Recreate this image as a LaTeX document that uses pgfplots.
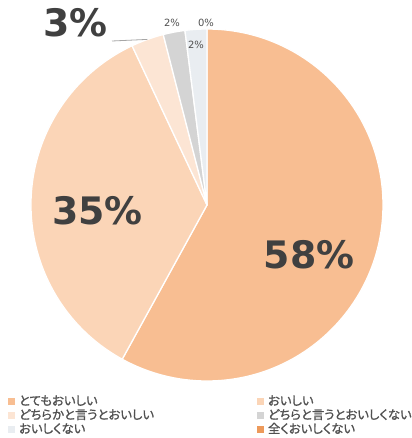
\documentclass[border=0pt]{standalone}
\usepackage{pgfplots}
\pgfplotsset{compat=1.18}
\usepackage{pgfplotstable}
\usepackage{fontspec}
\newfontfamily\jp[RawFeature=+palt, FakeBold=1.2]{Noto Sans CJK JP}
\newfontfamily\numfont{DejaVu Sans}
\definecolor{c1}{HTML}{F8BE92}
\definecolor{c2}{HTML}{FBD5B7}
\definecolor{c3}{HTML}{FCE5D4}
\definecolor{c4}{HTML}{D4D4D4}
\definecolor{c5}{HTML}{E9EDF1}
\definecolor{c6}{HTML}{ED9A5B}
\definecolor{lbl}{HTML}{404040}
\definecolor{txt}{HTML}{505050}

\pgfplotstableread{
value color
58 c1
35 c2
3 c3
2 c4
2 c5
0 c6
}\piedata

\begin{document}
\begin{tikzpicture}
\begin{axis}[
  hide axis, clip=false,
  x=1bp, y=1bp,
  xmin=0, xmax=412, ymin=0, ymax=438,
  at={(0,0)}, anchor=south west,
  legend columns=2,
  legend cell align=left,
  legend image code/.code={\fill[#1] (0bp,-3bp) rectangle (6bp,3bp);},
  legend style={at={(8/412,44/438)}, anchor=north west, draw=none, fill=none,
    inner sep=0pt, row sep=0pt, column sep=4.5bp,
    /tikz/column 2/.style={column sep=103bp},
    nodes={inner sep=0pt, text height=11bp, text depth=3bp, text=txt,
      font=\jp\fontsize{12.4}{14}\selectfont}},
]
\def\curang{90}
\pgfplotstablegetrowsof{\piedata}
\pgfmathtruncatemacro\nrows{\pgfplotsretval-1}
\pgfplotsforeachungrouped \i in {0,...,\nrows}{%
  \pgfplotstablegetelem{\i}{value}\of\piedata \let\v\pgfplotsretval
  \pgfplotstablegetelem{\i}{color}\of\piedata \let\c\pgfplotsretval
  \pgfmathsetmacro\nextang{\curang-3.6*\v}%
  \ifdim\v pt>0pt
  \edef\temp{\noexpand\filldraw[fill=\c, draw=white, line width=1.3bp, line join=round]
    (axis cs:207,233) -- ++(\curang:176bp) arc[start angle=\curang, end angle=\nextang, radius=176bp] -- cycle;}%
  \temp
  \fi
  \global\let\curang\nextang
}
\addlegendimage{c1}\addlegendentry{とてもおいしい}
\addlegendimage{c2}\addlegendentry{おいしい}
\addlegendimage{c3}\addlegendentry{どちらかと言うとおいしい}
\addlegendimage{c4}\addlegendentry{どちらと言うとおいしくない}
\addlegendimage{c5}\addlegendentry{おいしくない}
\addlegendimage{c6}\addlegendentry{全くおいしくない}

\draw[color=black!35, line width=0.8bp] (axis cs:112,397) -- (axis cs:147.4,398.6);
\node[anchor=base, text=lbl, font=\numfont\bfseries\fontsize{38}{40}\selectfont, inner sep=0pt] at (axis cs:309,170) {58\%};
\node[anchor=base, text=lbl, font=\numfont\bfseries\fontsize{38}{40}\selectfont, inner sep=0pt] at (axis cs:97.5,214) {35\%};
\node[anchor=base, text=lbl, font=\numfont\bfseries\fontsize{38}{40}\selectfont, inner sep=0pt] at (axis cs:75.5,401) {3\%};
\node[anchor=base, text=txt, font=\numfont\fontsize{10}{12}\selectfont, inner sep=0pt] at (axis cs:172,411) {2\%};
\node[anchor=base, text=txt, font=\numfont\fontsize{10}{12}\selectfont, inner sep=0pt] at (axis cs:206,411) {0\%};
\node[anchor=base, text=txt, font=\numfont\fontsize{10}{12}\selectfont, inner sep=0pt] at (axis cs:196,389) {2\%};
\end{axis}
\pgfresetboundingbox
\path (0,0) rectangle (412bp,438bp);
\end{tikzpicture}
\end{document}
